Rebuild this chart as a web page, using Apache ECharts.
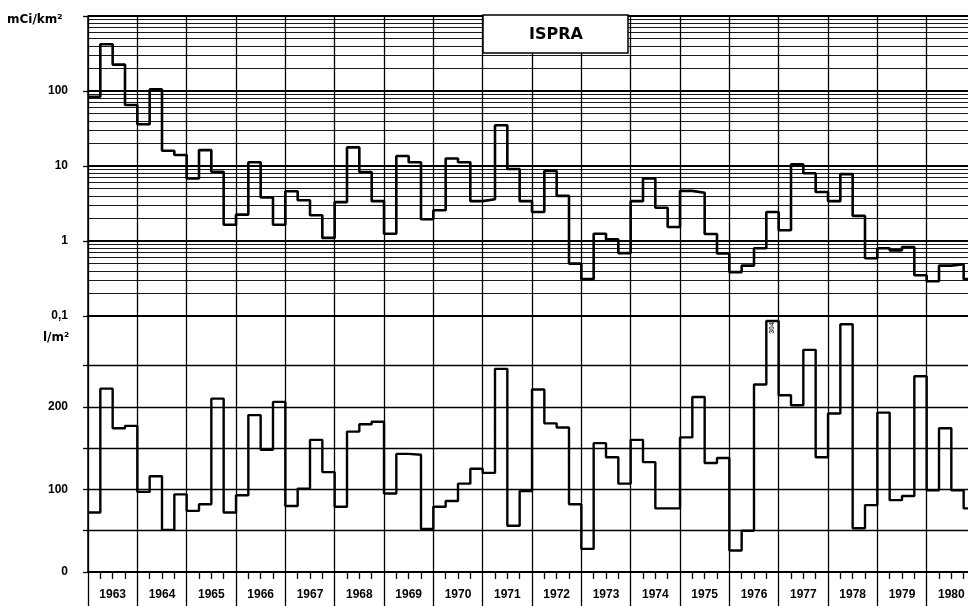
<!DOCTYPE html>
<html>
<head>
<meta charset="utf-8">
<script src="https://cdn.jsdelivr.net/npm/echarts@6/dist/echarts.min.js"></script>
<style>
  html, body { margin: 0; padding: 0; background: #fff; }
  #chart { width: 968px; height: 606px; }
</style>
</head>
<body>
<div id="chart"></div>
<script>
// Ispra: quarterly fallout deposition (mCi/km², log scale) and precipitation (l/m²), 1963–1980
const startYear = 1963;
const endYear = 1981;
const yearLabels = ['1963', '1964', '1965', '1966', '1967', '1968', '1969', '1970', '1971',
                    '1972', '1973', '1974', '1975', '1976', '1977', '1978', '1979', '1980'];

// deposition per quarter, mCi/km² (four values per year, Q1..Q4)
const deposition = [
  84, 420, 225, 65,        // 1963
  36, 105, 16, 14,         // 1964
  6.8, 16.3, 8.4, 1.65,    // 1965
  2.25, 11.2, 3.8, 1.65,   // 1966
  4.6, 3.5, 2.2, 1.1,      // 1967
  3.3, 17.7, 8.3, 3.4,     // 1968
  1.25, 13.6, 11.2, 1.95,  // 1969
  2.57, 12.6, 11.2, 3.4,   // 1970
  3.6, 35, 9.1, 3.4,       // 1971
  2.44, 8.6, 4.0, 0.5,     // 1972
  0.31, 1.25, 1.05, 0.69,  // 1973
  3.4, 6.8, 2.77, 1.54,    // 1974
  4.66, 4.4, 1.24, 0.68,   // 1975
  0.385, 0.47, 0.8, 2.44,  // 1976
  1.39, 10.5, 8.0, 4.5,    // 1977
  3.4, 7.8, 2.16, 0.59,    // 1978
  0.8, 0.75, 0.83, 0.35,   // 1979
  0.29, 0.47, 0.49, 0.31   // 1980
];

// precipitation per quarter, l/m²
const precipitation = [
  72, 222, 174, 177,   // 1963
  97, 116, 51, 94,     // 1964
  74, 82, 210, 72,     // 1965
  93, 190, 148, 206,   // 1966
  80, 101, 160, 121,   // 1967
  79, 170, 179, 182,   // 1968
  95, 143, 142, 52,    // 1969
  79, 86, 107, 125,    // 1970
  120, 246, 56, 98,    // 1971
  221, 180, 175, 82,   // 1972
  28, 156, 139, 107,   // 1973
  160, 133, 77, 77,    // 1974
  163, 212, 132, 138,  // 1975
  26, 50, 227, 304,    // 1976
  214, 202, 269, 139,  // 1977
  192, 300, 53, 81,    // 1978
  193, 87, 92, 237,    // 1979
  99, 174, 99, 77      // 1980
];

// axis ticks and grid rulings
const precipitationTicks = [0, 100, 200];
const precipitationRules = [50, 100, 150, 200, 250];
const logDecades = [0.1, 1, 10, 100];
const logSubdivisions = [2, 3, 4, 5, 6, 7, 8, 9];

// the quarter whose value is written beside its bar (1976 Q4)
const annotatedQuarter = (1976 - startYear) * 4 + 3;

const INK = '#000';
const FONT = '"Liberation Sans", Arial, sans-serif';
const UNIT_FONT = 'bold 12px "DejaVu Sans", sans-serif';

// quarterly step points: each value holds from the start of its quarter to the next
function stepPoints(values) {
  const pts = values.map((v, i) => [startYear + i * 0.25, v]);
  pts.push([startYear + values.length * 0.25, values[values.length - 1]]);
  return pts;
}

const minorLogLines = [];
logDecades.forEach(d => logSubdivisions.forEach(m => minorLogLines.push(+(d * m).toPrecision(2))));

const labelStyle = { fontFamily: FONT, fontWeight: 'bold', fontSize: 12, color: INK };

const chart = echarts.init(document.getElementById('chart'), null, { renderer: 'canvas' });

chart.setOption({
  animation: false,
  backgroundColor: '#fff',
  textStyle: { fontFamily: FONT },
  // the plot runs on past the right edge of the page, so the grids are not fitted inside it
  grid: [
    { left: 88, top: 16, width: 888, height: 300, outerBoundsMode: 'none', containLabel: false },
    { left: 88, top: 316, width: 888, height: 256, outerBoundsMode: 'none', containLabel: false }
  ],
  xAxis: [
    {
      type: 'value', gridIndex: 0, min: startYear, max: endYear, interval: 1,
      axisLine: { show: true, onZero: false, lineStyle: { color: INK, width: 2 } },
      axisTick: { show: false },
      axisLabel: { show: false },
      splitLine: { show: true, lineStyle: { color: INK, width: 1.3 } }
    },
    {
      type: 'value', gridIndex: 1, min: startYear, max: endYear, interval: 1,
      axisLine: { show: true, onZero: false, lineStyle: { color: INK, width: 2 } },
      axisTick: { show: true, length: 36, lineStyle: { color: INK, width: 1.3 } },
      minorTick: { show: true, splitNumber: 4, length: 7, lineStyle: { color: INK, width: 1.3 } },
      axisLabel: { show: false },
      splitLine: { show: true, lineStyle: { color: INK, width: 1.3 } }
    },
    {
      type: 'category', gridIndex: 1, data: yearLabels, boundaryGap: true, position: 'bottom',
      axisLine: { show: false }, axisTick: { show: false }, splitLine: { show: false },
      axisLabel: Object.assign({ show: true, interval: 0, margin: 17 }, labelStyle)
    }
  ],
  yAxis: [
    {
      type: 'log', logBase: 10, gridIndex: 0, min: 0.1, max: 1000,
      axisLine: { show: true, lineStyle: { color: INK, width: 1.5 } },
      axisTick: { show: true, length: 5, lineStyle: { color: INK, width: 1.3 } },
      axisLabel: Object.assign({
        margin: 20,
        formatter: v => (v >= 999 ? '' : String(+(+v).toPrecision(3)).replace('.', ','))
      }, labelStyle),
      splitLine: { show: true, lineStyle: { color: INK, width: 1.8 } }
    },
    {
      type: 'value', gridIndex: 1, min: 0, max: 310, interval: 50,
      axisLine: { show: true, lineStyle: { color: INK, width: 1.5 } },
      axisTick: { show: true, length: 5, customValues: [0].concat(precipitationRules), lineStyle: { color: INK, width: 1.3 } },
      axisLabel: Object.assign({ margin: 20, customValues: precipitationTicks }, labelStyle),
      splitLine: { show: false }
    }
  ],
  series: [
    {
      name: 'mCi/km²', type: 'line', xAxisIndex: 0, yAxisIndex: 0,
      step: 'end', showSymbol: false, symbol: 'none',
      lineStyle: { color: INK, width: 2.6 },
      data: stepPoints(deposition),
      markLine: {
        silent: true, symbol: ['none', 'none'], label: { show: false },
        lineStyle: { type: 'solid', color: INK, width: 0.9 },
        data: minorLogLines.map(v => ({ yAxis: v }))
      },
      z: 5
    },
    {
      name: 'l/m²', type: 'line', xAxisIndex: 1, yAxisIndex: 1,
      step: 'end', showSymbol: false, symbol: 'none',
      lineStyle: { color: INK, width: 2.4 },
      data: stepPoints(precipitation),
      markLine: {
        silent: true, symbol: ['none', 'none'], label: { show: false },
        lineStyle: { type: 'solid', color: INK, width: 1.3 },
        data: precipitationRules.map(v => ({ yAxis: v }))
      },
      z: 5
    },
    {
      type: 'scatter', xAxisIndex: 1, yAxisIndex: 1,
      symbol: 'circle', symbolSize: 1, itemStyle: { color: 'rgba(0,0,0,0)' },
      data: [[startYear + annotatedQuarter * 0.25, precipitation[annotatedQuarter]]],
      label: {
        show: true, position: 'inside', rotate: 90, offset: [-7, 6],
        formatter: p => String(p.value[1]),
        fontFamily: FONT, fontWeight: 'bold', fontSize: 7, color: INK
      },
      z: 6
    }
  ],
  graphic: [
    {
      type: 'text', left: 7, top: 14, z: 100,
      style: { text: 'mCi/km²', font: UNIT_FONT, fill: INK }
    },
    {
      type: 'text', left: 43, top: 332, z: 100,
      style: { text: 'l/m²', font: UNIT_FONT, fill: INK }
    },
    {
      type: 'group', z: 100,
      children: [
        {
          type: 'rect', z: 100,
          shape: { x: 483, y: 15, width: 145, height: 38 },
          style: { fill: '#fff', stroke: INK, lineWidth: 1.5 }
        },
        {
          type: 'text', z: 101, x: 556, y: 35,
          style: { text: 'ISPRA', font: 'bold 16px "DejaVu Sans", sans-serif', fill: INK,
                   textAlign: 'center', textVerticalAlign: 'middle' }
        }
      ]
    }
  ]
});
</script>
</body>
</html>
